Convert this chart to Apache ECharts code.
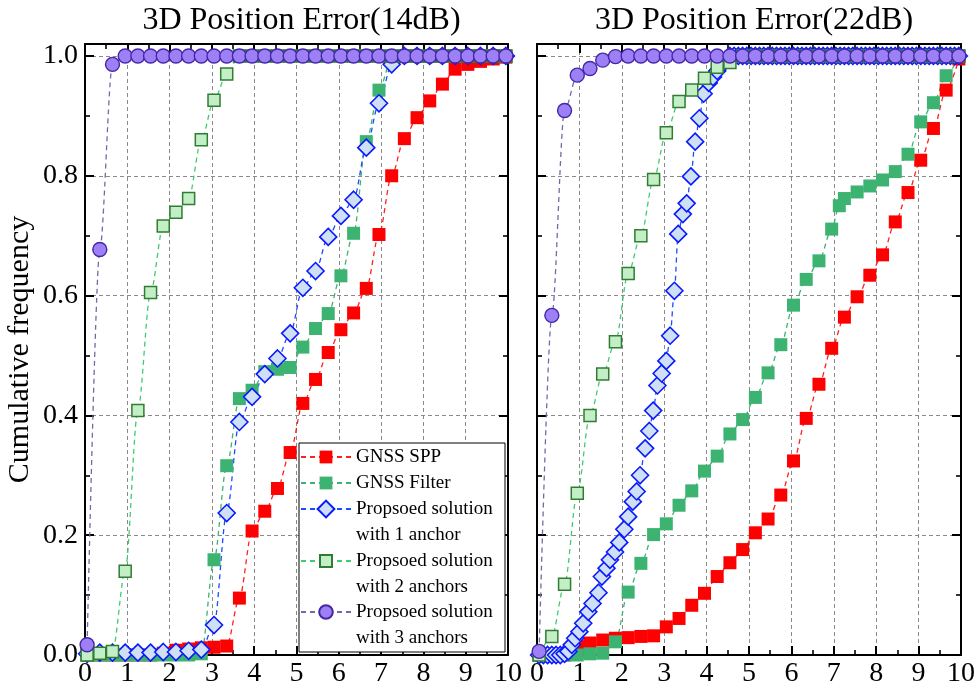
<!DOCTYPE html>
<html>
<head>
<meta charset="utf-8">
<script src="https://cdn.jsdelivr.net/npm/echarts@6/dist/echarts.min.js"></script>
<style>
html,body{margin:0;padding:0;background:#fff;}
#chart{width:974px;height:694px;}
</style>
</head>
<body>
<div id="chart"></div>
<script>
// ---------- data ----------
const titles = ['3D Position Error(14dB)', '3D Position Error(22dB)'];
const xTicks = [0,1,2,3,4,5,6,7,8,9,10];
const names = ['GNSS SPP', 'GNSS Filter', 'Propsoed solution\nwith 1 anchor', 'Propsoed solution\nwith 2 anchors', 'Propsoed solution\nwith 3 anchors'];

// common x sampling
const xs = [0.05,0.35,0.65,0.95,1.25,1.55,1.85,2.15,2.45,2.75,3.05,3.35,3.65,3.95,4.25,4.55,4.85,5.15,5.45,5.75,6.05,6.35,6.65,6.95,7.25,7.55,7.85,8.15,8.45,8.75,9.05,9.35,9.65,9.95];

// 14 dB panel
const spp14 = [0,0,0,0,0,0,0.003,0.008,0.010,0.012,0.013,0.015,0.095,0.207,0.240,0.278,0.338,0.420,0.460,0.505,0.543,0.571,0.612,0.702,0.800,0.862,0.897,0.925,0.953,0.978,0.986,0.991,0.995,0.998];
const filter14 = [0,0,0,0,0,0,0,0,0,0.002,0.159,0.316,0.428,0.442,0.473,0.477,0.480,0.514,0.545,0.570,0.633,0.704,0.857,0.943,0.995,1,1,1,1,1,1,1,1,1];
const one14 = [0.002,0.004,0.004,0.004,0.004,0.004,0.005,0.005,0.007,0.009,0.050,0.237,0.389,0.431,0.469,0.495,0.537,0.613,0.641,0.698,0.733,0.760,0.847,0.921,0.986,1,1,1,1,1,1,1,1,1];
const two14 = [0,0.003,0.006,0.140,0.408,0.605,0.716,0.739,0.762,0.860,0.926,0.970,1,1,1,1,1,1,1,1,1,1,1,1,1,1,1,1,1,1,1,1,1,1];
const three14 = [0.017,0.677,0.986,1,1,1,1,1,1,1,1,1,1,1,1,1,1,1,1,1,1,1,1,1,1,1,1,1,1,1,1,1,1,1];

// 22 dB panel
const spp22X = [0.05,0.35,0.65,0.95,1.1,1.25,1.55,1.85,2.15,2.45,2.75,3.05,3.35,3.65,3.95,4.25,4.55,4.85,5.15,5.45,5.75,6.05,6.35,6.65,6.95,7.25,7.55,7.85,8.15,8.45,8.75,9.05,9.35,9.65,9.95];
const spp22 = [0,0,0,0.006,0.014,0.020,0.025,0.028,0.029,0.031,0.032,0.047,0.061,0.083,0.103,0.131,0.154,0.176,0.204,0.227,0.267,0.324,0.395,0.452,0.512,0.564,0.598,0.634,0.668,0.723,0.772,0.826,0.879,0.943,0.995];
const filter22X = [0.05,0.35,0.65,0.95,1.25,1.55,1.85,2.15,2.45,2.75,3.05,3.35,3.65,3.95,4.25,4.55,4.85,5.15,5.45,5.75,6.05,6.35,6.65,6.95,7.13,7.25,7.55,7.85,8.15,8.45,8.75,9.05,9.35,9.65,9.95];
const filter22 = [0,0,0,0,0.002,0.003,0.022,0.105,0.153,0.201,0.219,0.250,0.274,0.307,0.332,0.369,0.393,0.430,0.471,0.518,0.584,0.627,0.658,0.711,0.750,0.762,0.773,0.783,0.793,0.807,0.836,0.890,0.922,0.967,1.0];
const one22X = [0.05,0.15,0.25,0.35,0.45,0.55,0.65,0.74,0.82,0.90,1.00,1.09,1.21,1.31,1.45,1.53,1.64,1.72,1.84,1.94,2.06,2.15,2.26,2.35,2.43,2.55,2.65,2.74,2.84,2.94,3.05,3.14,3.24,3.33,3.44,3.53,3.63,3.73,3.83,3.93,4.05,4.15,4.25,4.35,4.45,
  4.55,4.65,4.75,4.85,4.95,5.05,5.15,5.25,5.35,5.45,5.55,5.65,5.75,5.85,5.95,6.05,6.15,6.25,6.35,6.45,6.55,6.65,6.75,6.85,6.95,7.05,7.15,7.25,7.35,7.45,7.55,7.65,7.75,7.85,7.95,8.05,8.15,8.25,8.35,8.45,8.55,8.65,8.75,8.85,8.95,9.05,9.15,9.25,9.35,9.45,9.55,9.65,9.75,9.85,9.95];
const one22 = [0,0,0,0,0,0,0.002,0.006,0.017,0.028,0.039,0.053,0.072,0.086,0.104,0.131,0.145,0.159,0.172,0.188,0.210,0.231,0.256,0.273,0.300,0.345,0.374,0.408,0.450,0.470,0.491,0.533,0.608,0.703,0.736,0.754,0.799,0.857,0.896,0.937,0.955,0.965,0.975,0.985,0.993,
  1,1,1,1,1,1,1,1,1,1,1,1,1,1,1,1,1,1,1,1,1,1,1,1,1,1,1,1,1,1,1,1,1,1,1,1,1,1,1,1,1,1,1,1,1,1,1,1,1,1,1,1,1,1,1];
const two22 = [0,0.031,0.118,0.270,0.400,0.469,0.523,0.637,0.700,0.794,0.872,0.924,0.943,0.963,0.981,0.989,1,1,1,1,1,1,1,1,1,1,1,1,1,1,1,1,1,1];
const three22 = [0.006,0.567,0.909,0.968,0.979,0.993,0.999,1,1,1,1,1,1,1,1,1,1,1,1,1,1,1,1,1,1,1,1,1,1,1,1,1,1,1];

// ---------- styles ----------
const FONT = 'Liberation Serif';
const styles = [
  {symbol:'rect', size:13, fill:'#ff0000', border:'#ff0000', bw:0, line:'#ff2020'},
  {symbol:'rect', size:13, fill:'#3cb371', border:'#3cb371', bw:0, line:'#3cb371'},
  {symbol:'diamond', size:17, fill:'#cfe0f4', border:'#0a1aff', bw:1.6, line:'#1a4cff'},
  {symbol:'rect', size:12, fill:'#c4efc6', border:'#2e7d32', bw:1.5, line:'#3fcc70'},
  {symbol:'circle', size:14, fill:'#9d80f6', border:'#4526a8', bw:1.4, line:'#6c6ca6'}
];

function mk(k, xArr, yArr, gi) {
  const s = styles[k];
  return {
    type:'line', name: names[k],
    xAxisIndex: gi*2, yAxisIndex: gi*4,
    data: xArr.map((x,i)=>[x, yArr[i]]),
    symbol: s.symbol, symbolSize: s.size,
    smooth: 0.3, smoothMonotone: 'x',
    lineStyle: {color: s.line, width: 1.3, type: [5,4]},
    itemStyle: {color: s.fill, borderColor: s.border, borderWidth: s.bw, opacity: 1},
    emphasis: {disabled: true},
    clip: true, z: 2
  };
}

const series = [
  mk(0, xs, spp14, 0), mk(1, xs, filter14, 0), mk(2, xs, one14, 0), mk(3, xs, two14, 0), mk(4, xs, three14, 0),
  mk(0, spp22X, spp22, 1), mk(1, filter22X, filter22, 1), mk(2, one22X, one22, 1), mk(3, xs, two22, 1), mk(4, xs, three22, 1)
];

const grids = [
  {left:85, top:44, width:423, height:611, outerBoundsMode:'none', containLabel:false},
  {left:537, top:44, width:424, height:611, outerBoundsMode:'none', containLabel:false}
];

const tickLine = {color:'#000', width:2};
function xAx(gi, pos) {
  const bottom = pos === 'bottom';
  return {
    type:'value', gridIndex: gi, position: pos, min: xTicks[0], max: xTicks[xTicks.length-1], interval: 1,
    axisLine: {show:true, onZero:false, lineStyle:{color:'#000', width:2}},
    axisTick: {show:true, inside:true, length:9, lineStyle: tickLine},
    minorTick: {show:true, splitNumber:2, length:5, lineStyle:{color:'#000', width:1.6}},
    axisLabel: {show: bottom, margin:5, color:'#000', fontFamily: FONT, fontSize:28},
    splitLine: {show: bottom, lineStyle:{color:'#8a8a8a', width:1, type:[4,3]}}
  };
}
function yAx(gi, pos, major, withLabel) {
  return {
    type:'value', gridIndex: gi, position: pos, min: 0, max: 1.02, interval: major ? 0.2 : 0.1,
    name: (withLabel && gi === 0) ? 'Cumulative frequency' : '',
    nameLocation:'middle', nameGap: 50, nameRotate: 90,
    nameTextStyle: {color:'#000', fontFamily: FONT, fontSize:30},
    axisLine: {show: major, onZero:false, lineStyle:{color:'#000', width:2}},
    axisTick: {show:true, inside:true, length: major ? 9 : 5, lineStyle: {color:'#000', width: major ? 2 : 1.6}},
    axisLabel: {show: withLabel && gi === 0, margin:7, color:'#000', fontFamily: FONT, fontSize:28,
      formatter: v => (Math.abs(v*5 - Math.round(v*5)) < 1e-6 && v <= 1.0001) ? v.toFixed(1) : ''},
    splitLine: {show: major && withLabel, lineStyle:{color:'#8a8a8a', width:1, type:[4,3]}}
  };
}

const xAxis = [xAx(0,'bottom'), xAx(0,'top'), xAx(1,'bottom'), xAx(1,'top')];
const yAxis = [];
[0,1].forEach(gi => {
  yAxis.push(yAx(gi,'left',true,true));
  yAxis.push(yAx(gi,'left',false,false));
  yAxis.push(yAx(gi,'right',true,false));
  yAxis.push(yAx(gi,'right',false,false));
});

const legendTops = [444, 470, 470, 522, 573];
const legendIconH = [16, 16, 21, 15, 17];
const legend = names.map((n, k) => ({
  data: [n], left: 300, top: legendTops[k], orient:'vertical', padding: 0,
  itemWidth: 50, itemHeight: legendIconH[k], selectedMode: false, z: 20,
  formatter: name => name.indexOf('\n') >= 0 ? '{s| }\n' + name : name,
  textStyle: {color:'#000', fontFamily: FONT, fontSize: 19, lineHeight: 26,
    rich: {s: {fontSize: 19, height: 26, lineHeight: 26}}}
}));

const option = {
  animation: false,
  backgroundColor: '#fff',
  title: titles.map((t, i) => ({
    text: t, left: grids[i].left + grids[i].width/2, top: 0, textAlign: 'center',
    textStyle: {color:'#000', fontFamily: FONT, fontSize: 32, fontWeight: 'normal'}
  })),
  grid: grids,
  xAxis, yAxis,
  legend,
  graphic: {elements: [{type:'rect', z: 10, shape:{x:299, y:443, width:206, height:209},
    style:{fill:'#fff', stroke:'#000', lineWidth:1}}]},
  series
};

const chart = echarts.init(document.getElementById('chart'), null, {renderer:'canvas'});
chart.setOption(option);
</script>
</body>
</html>
